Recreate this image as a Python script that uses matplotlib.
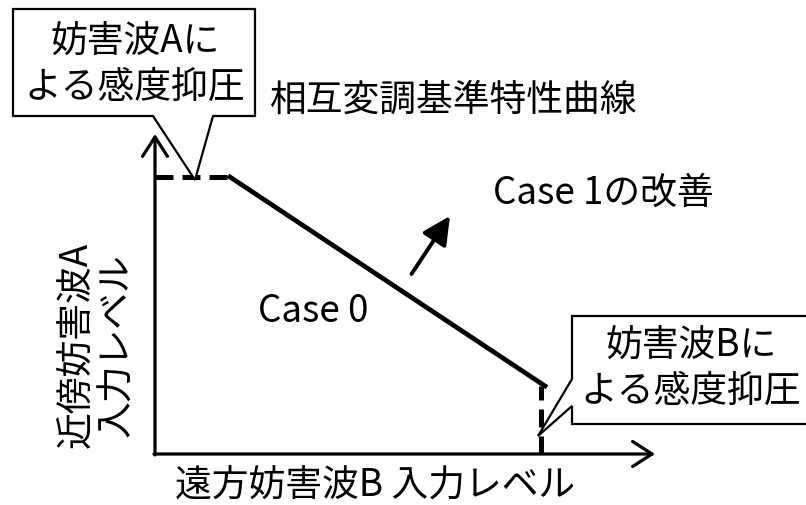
import matplotlib
matplotlib.use("Agg")
import matplotlib.pyplot as plt
from matplotlib.patches import Polygon

plt.rcParams['font.family'] = ['Noto Sans CJK JP', 'DejaVu Sans']

# 図の中身 (原点 = 軸の交点, 単位は概念的なレベル)
sat_a_x = [0, 1.5]          # 妨害波Aによる感度抑圧 (水平破線)
sat_a_y = [5.54, 5.54]
curve_x = [1.5, 7.8]        # 相互変調基準特性曲線
curve_y = [5.54, 1.36]
sat_b_x = [7.72, 7.72]      # 妨害波Bによる感度抑圧 (垂直破線)
sat_b_y = [0, 1.36]
improve_from = (5.13, 3.6)  # Case 1の改善 の矢印
improve_to = (5.9, 4.76)
x_end, y_end = 10.0, 6.4

callout_a = [(-2.84, 8.9), (2.0, 8.9), (2.0, 6.76), (1.16, 6.76), (0.8, 5.48),
             (-0.04, 6.76), (-2.84, 6.76)]
callout_b = [(8.34, 2.76), (13.3, 2.76), (13.3, 0.6), (8.34, 0.6), (8.34, 0.96),
             (7.66, 0.36), (8.34, 1.5)]

fig = plt.figure(figsize=(8.06, 5.06), dpi=100)
ax = fig.add_axes([0, 0, 1, 1])
ax.set_xlim(-3.1, 13.02)
ax.set_ylim(-1.02, 9.1)
ax.axis("off")

axis_arrow = dict(arrowstyle="->,head_length=0.7,head_width=0.45", lw=2.3,
                  color="k", mutation_scale=20, shrinkA=0, shrinkB=0)
ax.annotate("", xy=(x_end, 0), xytext=(-0.02, 0), arrowprops=axis_arrow)
ax.annotate("", xy=(0, y_end), xytext=(0, -0.02), arrowprops=axis_arrow)

ax.plot(sat_a_x, sat_a_y, color="k", lw=3.6, dashes=(3.6, 1.8), solid_capstyle="butt")
ax.plot(curve_x, curve_y, color="k", lw=3.4, solid_capstyle="projecting")
ax.plot(sat_b_x, sat_b_y, color="k", lw=3.6, dashes=(3.6, 1.8), solid_capstyle="butt")

ax.annotate("", xy=improve_to, xytext=improve_from,
            arrowprops=dict(arrowstyle="-|>,head_length=1.0,head_width=0.5", lw=2.8,
                            color="k", mutation_scale=17, shrinkA=0, shrinkB=0))

for pts in (callout_a, callout_b):
    ax.add_patch(Polygon(pts, closed=True, facecolor="white", edgecolor="k",
                         lw=1.6, clip_on=False, zorder=3))

fs = 26.5
ax.text(-0.4, 7.81, "妨害波Aに\nよる感度抑圧", fontsize=fs, ha="center", va="center",
        linespacing=1.2, zorder=4)
ax.text(10.72, 1.72, "妨害波Bに\nよる感度抑圧", fontsize=fs, ha="center", va="center",
        linespacing=1.2, zorder=4)
ax.text(5.98, 7.1, "相互変調基準特性曲線", fontsize=fs, ha="center", va="center")
ax.text(8.96, 5.24, "Case 1の改善", fontsize=fs, ha="center", va="center")
ax.text(3.16, 2.86, "Case 0", fontsize=fs, ha="center", va="center")
ax.text(4.4, -0.6, "遠方妨害波B 入力レベル", fontsize=fs, ha="center", va="center")
ax.text(-1.16, 2.2, "近傍妨害波A\n入力レベル", fontsize=fs, ha="center", va="center",
        rotation=90, linespacing=1.05)

fig.savefig("out.png", dpi=100)
